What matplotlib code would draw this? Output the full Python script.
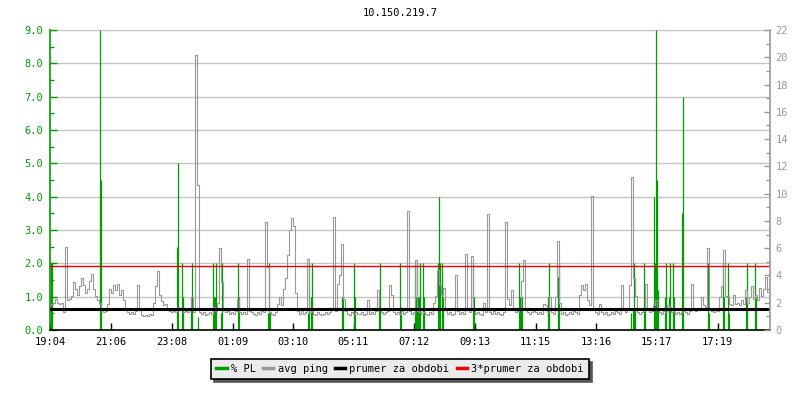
import numpy as np
import matplotlib.pyplot as plt
from matplotlib.lines import Line2D

plt.rcParams['font.family'] = ['DejaVu Sans Mono']
plt.rcParams['font.size'] = 7.5

title = '10.150.219.7'

# minutes from 19:04, one sample of avg ping every 4 minutes
step_min = 4
ping_ms = [
    1.8, 1.9, 2.0, 2.3, 2.0, 1.9, 2.0, 1.3, 6.1, 2.2,
    2.3, 2.5, 3.5, 3.0, 2.6, 3.2, 3.8, 3.3, 2.7, 3.0,
    3.6, 4.1, 3.0, 2.5, 2.2, 2.0, 1.5, 1.3, 1.4, 1.9,
    3.0, 2.7, 3.3, 2.9, 3.4, 2.6, 2.9, 2.2, 1.5, 1.3,
    1.2, 1.3, 1.2, 1.4, 3.3, 1.5, 1.1, 1.0, 1.1, 1.0,
    1.2, 1.1, 2.0, 3.2, 4.3, 2.6, 2.1, 1.8, 1.9, 1.6,
    1.4, 1.3, 1.4, 1.3, 1.7, 1.6, 1.5, 1.3, 1.4, 1.3,
    1.5, 2.4, 1.3, 20.2, 10.6, 1.3, 1.2, 1.3, 1.1, 1.2,
    1.3, 1.2, 1.7, 1.4, 2.0, 6.0, 3.5, 1.5, 1.3, 1.4,
    1.2, 1.3, 1.2, 1.4, 2.3, 1.3, 1.2, 1.3, 1.2, 5.2,
    1.4, 1.3, 1.2, 1.1, 1.3, 1.2, 1.4, 1.3, 7.9, 4.6,
    1.3, 1.2, 1.1, 1.3, 1.9, 2.4, 1.8, 3.0, 3.8, 5.5,
    7.3, 8.2, 7.6, 2.7, 1.4, 1.2, 1.6, 1.2, 1.3, 5.2,
    1.3, 1.4, 1.2, 1.1, 1.3, 1.2, 1.1, 1.2, 1.3, 1.2,
    1.3, 1.6, 8.3, 1.4, 3.4, 4.0, 6.3, 2.3, 1.4, 1.2,
    1.1, 1.3, 1.2, 1.3, 1.2, 1.2, 1.3, 1.1, 1.2, 2.2,
    1.2, 1.3, 1.2, 1.4, 2.9, 1.6, 1.3, 1.2, 1.3, 1.4,
    3.3, 2.6, 1.3, 1.2, 1.3, 1.2, 1.4, 1.2, 1.3, 8.7,
    1.4, 1.2, 1.3, 5.1, 1.4, 1.3, 1.2, 1.3, 1.2, 1.1,
    1.3, 1.2, 2.0, 2.5, 4.4, 3.3, 2.6, 3.1, 1.5, 1.2,
    1.3, 1.1, 1.2, 4.0, 1.4, 1.2, 1.3, 1.2, 5.6, 1.5,
    1.3, 5.4, 1.6, 1.2, 1.3, 1.2, 1.1, 2.0, 1.3, 8.5,
    1.3, 1.2, 1.4, 1.2, 1.3, 1.2, 1.1, 1.3, 7.9, 2.3,
    1.8, 2.9, 1.6, 1.3, 1.4, 1.6, 3.6, 5.1, 1.5, 1.3,
    1.2, 1.3, 1.4, 1.3, 1.2, 1.3, 1.2, 1.9, 1.8, 1.3,
    2.4, 1.3, 1.2, 2.4, 6.5, 2.0, 1.2, 1.3, 1.1, 1.2,
    1.3, 1.2, 1.4, 1.3, 1.2, 2.6, 3.3, 2.9, 3.4, 2.2,
    1.8, 9.8, 1.6, 1.3, 1.2, 1.9, 1.3, 1.2, 1.3, 1.1,
    1.2, 1.3, 1.2, 1.4, 1.3, 1.2, 3.3, 1.5, 1.3, 1.6,
    3.3, 11.2, 3.8, 2.5, 1.3, 1.2, 1.3, 1.4, 3.4, 1.5,
    1.3, 1.4, 1.8, 2.2, 1.6, 1.3, 1.2, 1.4, 1.3, 1.8,
    1.7, 1.3, 1.4, 1.2, 1.3, 1.2, 1.3, 1.4, 1.3, 1.2,
    1.4, 3.4, 1.6, 1.4, 1.6, 1.5, 2.4, 1.8, 1.7, 6.0,
    1.6, 1.4, 1.3, 1.5, 1.4, 2.4, 3.2, 5.9, 2.5, 2.4,
    1.9, 1.8, 2.6, 1.9, 2.0, 1.8, 2.2, 1.9, 2.9, 2.0,
    2.4, 3.2, 2.3, 2.6, 2.2, 3.1, 2.5, 3.0, 3.9, 2.8,
]

# packet loss events: minute from 19:04 and % PL
pl_minutes = [2, 4, 100, 102, 254, 256, 264, 266, 282, 284, 296,
              326, 328, 330, 332, 342, 344, 376, 378, 436, 438, 440,
              516, 518, 522, 524, 584, 586, 608, 610, 658, 660, 700, 702,
              730, 732, 734, 736, 738, 740, 746, 748, 776, 778, 780,
              784, 786, 846, 848, 938, 940, 942, 944, 996, 998, 1016, 1018,
              1162, 1166, 1168, 1170, 1188, 1190, 1208, 1210, 1212, 1214, 1216,
              1230, 1232, 1238, 1240, 1246, 1248, 1264, 1266, 1316, 1318,
              1346, 1348, 1356, 1358, 1392, 1394, 1410, 1412]
pl_values = [2.0, 2.0, 9.0, 4.5, 2.5, 5.0, 2.0, 1.0, 1.0, 2.0, 0.4,
             2.0, 1.0, 1.0, 2.0, 0.5, 2.0, 2.0, 1.0, 0.5, 2.0, 0.5,
             0.5, 2.0, 1.0, 2.0, 1.0, 1.0, 2.0, 1.0, 1.0, 2.0, 2.0, 0.7,
             2.0, 1.0, 2.0, 1.0, 1.0, 2.0, 2.0, 1.0, 2.0, 4.0, 2.0,
             2.0, 1.0, 2.0, 1.0, 2.0, 1.0, 1.0, 1.0, 1.0, 2.0, 1.6, 2.0,
             0.5, 0.6, 2.0, 0.6, 2.0, 1.0, 4.0, 2.0, 9.0, 4.5, 1.2,
             1.0, 2.0, 1.0, 2.0, 2.0, 1.0, 3.5, 7.0, 2.0, 0.5,
             2.0, 1.0, 2.0, 0.5, 1.0, 2.0, 2.0, 1.0]

avg_mean = 1.57  # ms, average over the period

tick_minutes = [0, 122, 244, 365, 486, 607, 728, 849, 971, 1092, 1213, 1335]
tick_labels = ['19:04', '21:06', '23:08', '01:09', '03:10', '05:11',
               '07:12', '09:13', '11:15', '13:16', '15:17', '17:19']
period_min = 1440

green = '#009c00'
gray = '#999999'

fig = plt.figure(figsize=(8, 4), dpi=100)
ax = fig.add_axes([0.0625, 0.175, 0.9, 0.75])
ax2 = ax.twinx()

t_ping = np.arange(len(ping_ms)) * step_min

# left axis: % PL
ax.set_ylim(0, 9)
ax.set_xlim(0, period_min)
ax.set_yticks(np.arange(0, 9.5, 1.0))
ax.set_yticks(np.arange(0.5, 9, 1.0), minor=True)
ax.set_yticklabels(['%.1f' % v for v in np.arange(0, 9.5, 1.0)])
ax.grid(axis='y', color='#c4c4c4', linewidth=1.0)
ax.set_axisbelow(True)
ax.vlines(pl_minutes, 0, pl_values, color=green, linewidth=0.9)

# right axis: avg ping in ms
ax2.set_ylim(0, 22)
ax2.set_yticks(np.arange(0, 23, 2))
ax2.set_yticks(np.arange(1, 22, 2), minor=True)
ax2.plot(t_ping, ping_ms, color=gray, linewidth=0.8, drawstyle='steps-mid')
ax2.axhline(avg_mean, color='black', linewidth=2.2)
ax2.axhline(3 * avg_mean, color='#ee0000', linewidth=1.0)

ax.set_xticks(tick_minutes)
ax.set_xticklabels(tick_labels)

ax.tick_params(axis='y', which='major', direction='in', length=5, width=1,
               colors=green, pad=5)
ax.tick_params(axis='y', which='minor', direction='in', length=3, width=1,
               color=green)
ax.tick_params(axis='x', direction='in', length=5, width=1, colors='black',
               pad=5)
ax2.tick_params(axis='y', which='major', direction='in', length=4, width=1,
                colors=gray, pad=4)
ax2.tick_params(axis='y', which='minor', direction='in', length=3, width=1,
                color=gray)

for a in (ax, ax2):
    a.spines['top'].set_visible(False)
ax.spines['left'].set_color(green)
ax.spines['left'].set_linewidth(1.2)
ax.spines['bottom'].set_color('black')
ax.spines['bottom'].set_linewidth(1.2)
ax2.spines['right'].set_color(gray)
ax2.spines['right'].set_linewidth(1.2)
ax2.spines['left'].set_visible(False)
ax2.spines['bottom'].set_visible(False)
ax.spines['right'].set_visible(False)

fig.text(0.5, 1 - 13 / 400, title, ha='center', va='center', color='black')

handles = [Line2D([], [], color=green, linewidth=2.5),
           Line2D([], [], color=gray, linewidth=2.5),
           Line2D([], [], color='black', linewidth=2.5),
           Line2D([], [], color='#ee0000', linewidth=2.5)]
labels = ['% PL', 'avg ping', 'prumer za obdobi', '3*prumer za obdobi']
leg = fig.legend(handles, labels, loc='center', bbox_to_anchor=(0.5, 0.0775),
                 ncol=4, frameon=True, fancybox=False,
                 shadow={'color': '#555555', 'alpha': 1.0},
                 edgecolor='black', facecolor='#ebebeb', framealpha=1.0,
                 handlelength=1.0, handletextpad=0.4, columnspacing=0.7,
                 borderpad=0.5)
leg.get_frame().set_linewidth(1.2)

fig.savefig('out.png', dpi=100)
